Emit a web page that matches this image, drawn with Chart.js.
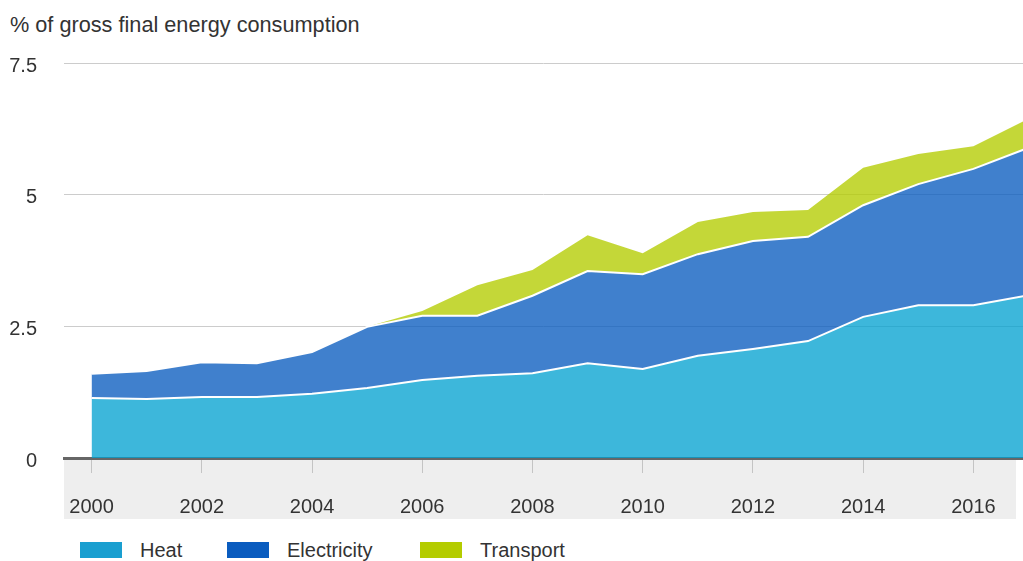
<!DOCTYPE html>
<html>
<head>
<meta charset="utf-8">
<script src="https://cdn.jsdelivr.net/npm/chart.js@4.4.1/dist/chart.umd.min.js"></script>
<style>
  body { margin: 0; background: #fff; font-family: "Liberation Sans", Arial, sans-serif; color: #333; }
  #wrap { position: relative; width: 1023px; height: 561px; overflow: hidden; }
  #title { position: absolute; left: 10px; top: 14px; font-size: 21.7px; line-height: 1; white-space: nowrap; }
  #box { position: absolute; left: 0; top: 0; width: 1023px; height: 522px; }
  .item { position: absolute; top: 540px; font-size: 20px; line-height: 1; white-space: nowrap; }
  .item span.sw { position: absolute; left: 0; top: 2px; width: 42px; height: 16px; }
  .item span.tx { margin-left: 60px; }
</style>
</head>
<body>
<div id="wrap">
  <div id="title">% of gross final energy consumption</div>
  <div id="box"><canvas id="areaChart"></canvas></div>
  <div class="item" style="left:80px"><span class="sw" style="background:#1a9fd0"></span><span class="tx">Heat</span></div>
  <div class="item" style="left:227px"><span class="sw" style="background:#0a5cbf"></span><span class="tx">Electricity</span></div>
  <div class="item" style="left:420px"><span class="sw" style="background:#b4cc00"></span><span class="tx">Transport</span></div>
</div>
<script>
let years = [2000, 2001, 2002, 2003, 2004, 2005, 2006, 2007, 2008, 2009, 2010, 2011, 2012, 2013, 2014, 2015, 2016, 2017];
let heat = [1.14, 1.12, 1.16, 1.16, 1.22, 1.33, 1.48, 1.56, 1.61, 1.80, 1.69, 1.94, 2.07, 2.22, 2.68, 2.90, 2.90, 3.09];
let electricity = [0.46, 0.53, 0.66, 0.64, 0.79, 1.16, 1.22, 1.14, 1.47, 1.75, 1.80, 1.93, 2.05, 1.98, 2.12, 2.30, 2.59, 2.80];
let transport = [0, 0, 0, 0, 0, 0, 0.09, 0.58, 0.49, 0.68, 0.40, 0.61, 0.55, 0.51, 0.71, 0.57, 0.43, 0.55];
let yTicks = [0, 2.5, 5, 7.5];
let xTicks = [2000, 2002, 2004, 2006, 2008, 2010, 2012, 2014, 2016];

function pts(arr) {
  return years.map((yr, i) => ({ x: yr, y: arr[i] }));
}

// grey band behind the year labels
const axisBand = {
  id: "axisBand",
  beforeDraw(chart) {
    let ctx = chart.ctx;
    let a = chart.chartArea;
    let xs = chart.scales.x;
    ctx.save();
    ctx.fillStyle = "#eeeeee";
    ctx.fillRect(a.left, a.bottom, a.right - 7 - a.left, xs.bottom - a.bottom);
    ctx.restore();
  }
};

let ctx = document.getElementById("areaChart").getContext("2d");
let myChart = new Chart(ctx, {
  type: "line",
  data: {
    datasets: [
      {
        label: "Heat",
        data: pts(heat),
        backgroundColor: "rgba(0, 160, 208, .76)",
        borderColor: "#ffffff",
        borderWidth: 2,
        fill: "origin"
      },
      {
        label: "Electricity",
        data: pts(electricity),
        backgroundColor: "rgba(10, 92, 191, .78)",
        borderColor: "#ffffff",
        borderWidth: 2,
        fill: "-1"
      },
      {
        label: "Transport",
        data: pts(transport),
        backgroundColor: "rgba(180, 204, 0, .78)",
        borderColor: "rgba(0,0,0,0)",
        borderWidth: 0,
        fill: "-1"
      }
    ]
  },
  options: {
    responsive: true,
    maintainAspectRatio: false,
    animation: false,
    layout: { padding: { top: 63, right: 0, left: 0, bottom: 3 } },
    elements: { point: { radius: 0, hoverRadius: 0 }, line: { tension: 0 } },
    plugins: {
      legend: { display: false },
      tooltip: { enabled: false }
    },
    scales: {
      x: {
        type: "linear",
        min: 1999.5,
        max: 2016.9,
        z: 1,
        afterFit(s) { s.height = 61; },
        afterBuildTicks(s) { s.ticks = xTicks.map(v => ({ value: v })); },
        border: { display: true, color: "#666666", width: 3 },
        grid: { drawOnChartArea: false, drawTicks: true, tickLength: 15, color: "#c4c4c4", lineWidth: 1 },
        ticks: {
          padding: 22,
          color: "#333333",
          font: { family: "Liberation Sans", size: 20 },
          maxRotation: 0,
          autoSkip: false,
          callback: v => String(v)
        }
      },
      y: {
        stacked: true,
        min: 0,
        max: 7.5,
        afterFit(s) { s.width = 64; },
        afterBuildTicks(s) { s.ticks = yTicks.map(v => ({ value: v })); },
        border: { display: false },
        grid: {
          drawTicks: false,
          color: c => (c.tick.value === 0 ? "rgba(0,0,0,0)" : "#cccccc"),
          lineWidth: 1
        },
        ticks: {
          padding: 27,
          labelOffset: 3,
          color: "#333333",
          font: { family: "Liberation Sans", size: 20 }
        }
      }
    }
  },
  plugins: [axisBand]
});
</script>
</body>
</html>
